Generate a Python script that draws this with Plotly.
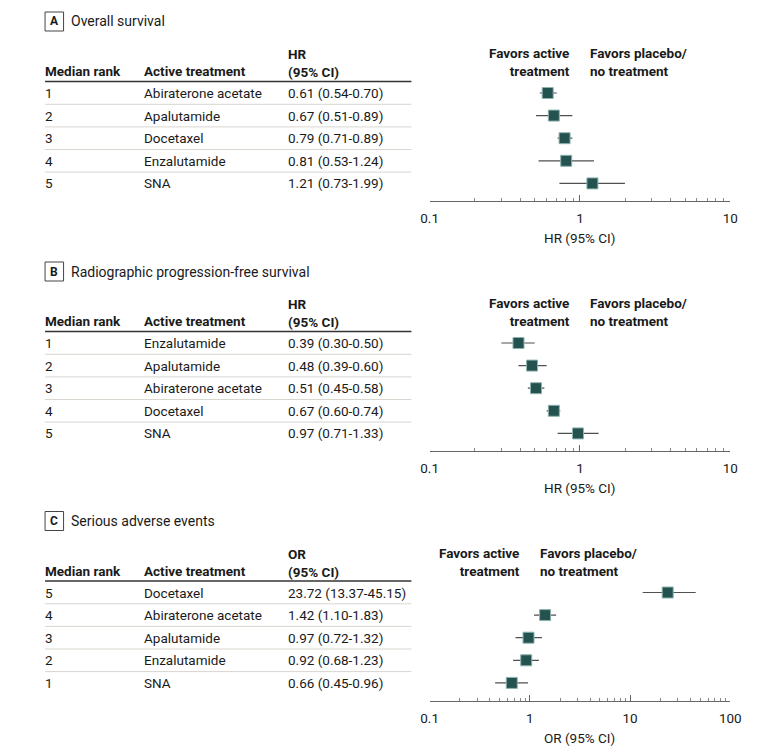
import plotly.graph_objects as go
import math

W, H = 780, 755

# ---------------- data ----------------
panel_letters = ["A", "B", "C"]
panel_titles = ["Overall survival", "Radiographic progression-free survival", "Serious adverse events"]
measure_labels = ["HR", "HR", "OR"]

a_rank = ["1", "2", "3", "4", "5"]
a_treat = ["Abiraterone acetate", "Apalutamide", "Docetaxel", "Enzalutamide", "SNA"]
a_est = [0.61, 0.67, 0.79, 0.81, 1.21]
a_lo = [0.54, 0.51, 0.71, 0.53, 0.73]
a_hi = [0.70, 0.89, 0.89, 1.24, 1.99]

b_rank = ["1", "2", "3", "4", "5"]
b_treat = ["Enzalutamide", "Apalutamide", "Abiraterone acetate", "Docetaxel", "SNA"]
b_est = [0.39, 0.48, 0.51, 0.67, 0.97]
b_lo = [0.30, 0.39, 0.45, 0.60, 0.71]
b_hi = [0.50, 0.60, 0.58, 0.74, 1.33]

c_rank = ["5", "4", "3", "2", "1"]
c_treat = ["Docetaxel", "Abiraterone acetate", "Apalutamide", "Enzalutamide", "SNA"]
c_est = [23.72, 1.42, 0.97, 0.92, 0.66]
c_lo = [13.37, 1.10, 0.72, 0.68, 0.45]
c_hi = [45.15, 1.83, 1.32, 1.23, 0.96]

a_ticks = [0.1, 1, 10]
b_ticks = [0.1, 1, 10]
c_ticks = [0.1, 1, 10, 100]
a_ticktext = ["0.1", "1", "10"]
b_ticktext = ["0.1", "1", "10"]
c_ticktext = ["0.1", "1", "10", "100"]

# ---------------- styling ----------------
FONT = "Roboto"
TXT = "#1a1a1a"
MARK = "#24524f"
MARK_EDGE = "#8fb3b0"
CI_COL = "#505050"


def px(x):
    return x / W


def py(y):
    return 1 - y / H


fig = go.Figure()
annotations = []
shapes = []

panels = [
    (a_rank, a_treat, a_est, a_lo, a_hi, a_ticks, a_ticktext),
    (b_rank, b_treat, b_est, b_lo, b_hi, b_ticks, b_ticktext),
    (c_rank, c_treat, c_est, c_lo, c_hi, c_ticks, c_ticktext),
]
offsets = [0, 250, 499.5]

ROW0 = 93.0
STEP = 22.6
X_LEFT, X_RIGHT = 431.7, 740.3
TX0, TX1, TX2 = 35, 137, 284   # table column starts

for p, (rank, treat, est, lo, hi, ticks, ticktext) in enumerate(panels):
    o = offsets[p]
    sfx = "" if p == 0 else str(p + 1)
    n = len(est)
    yb = 201 + o
    yt = 48 + o
    rows_px = [ROW0 + STEP * i + o for i in range(n)]
    yvals = [n - i for i in range(n)]
    ybot = 1 - (yb - rows_px[-1]) / STEP
    ytop = n + (rows_px[0] - yt) / STEP

    # panel label box + title
    shapes.append(dict(type="rect", xref="paper", yref="paper",
                       x0=px(37), x1=px(56), y0=py(31 + o), y1=py(12 + o),
                       line=dict(color="#444", width=1)))
    annotations.append(dict(xref="paper", yref="paper", x=px(46.5), y=py(21.5 + o),
                            text="<b>" + panel_letters[p] + "</b>", showarrow=False,
                            xanchor="center", yanchor="middle",
                            font=dict(family=FONT, size=12, color=TXT)))
    annotations.append(dict(xref="paper", yref="paper", x=px(62), y=py(21.5 + o),
                            text=panel_titles[p], showarrow=False,
                            xanchor="left", yanchor="middle",
                            font=dict(family=FONT, size=14, color=TXT)))

    # table header
    hdr_font = dict(family=FONT, size=13.5, color=TXT)
    annotations.append(dict(xref="paper", yref="paper", x=px(TX0), y=py(71 + o),
                            text="<b>Median rank</b>", showarrow=False,
                            xanchor="left", yanchor="middle", font=hdr_font))
    annotations.append(dict(xref="paper", yref="paper", x=px(TX1), y=py(71 + o),
                            text="<b>Active treatment</b>", showarrow=False,
                            xanchor="left", yanchor="middle", font=hdr_font))
    annotations.append(dict(xref="paper", yref="paper", x=px(TX2), y=py(63 + o),
                            text="<b>" + measure_labels[p] + "</b><br><b>(95% CI)</b>",
                            showarrow=False, align="left",
                            xanchor="left", yanchor="middle", font=hdr_font))
    shapes.append(dict(type="line", xref="paper", yref="paper",
                       x0=px(37), x1=px(413), y0=py(81.5 + o), y1=py(81.5 + o),
                       line=dict(color="#333", width=1.5)))

    # table rows
    row_font = dict(family=FONT, size=13.5, color=TXT)
    for i in range(n):
        yy = py(rows_px[i])
        annotations.append(dict(xref="paper", yref="paper", x=px(TX0), y=yy,
                                text=rank[i], showarrow=False,
                                xanchor="left", yanchor="middle", font=row_font))
        annotations.append(dict(xref="paper", yref="paper", x=px(TX1), y=yy,
                                text=treat[i], showarrow=False,
                                xanchor="left", yanchor="middle", font=row_font))
        annotations.append(dict(xref="paper", yref="paper", x=px(TX2), y=yy,
                                text="{:.2f} ({:.2f}-{:.2f})".format(est[i], lo[i], hi[i]),
                                showarrow=False,
                                xanchor="left", yanchor="middle", font=row_font))
        if i < n - 1:
            ysep = (rows_px[i] + rows_px[i + 1]) / 2
            shapes.append(dict(type="line", xref="paper", yref="paper",
                               x0=px(37), x1=px(413), y0=py(ysep), y1=py(ysep),
                               line=dict(color="#d9d6d0", width=1)))

    # forest plot trace: point estimate + 95% CI
    fig.add_trace(go.Scatter(
        x=est, y=yvals, mode="markers",
        xaxis="x" + sfx, yaxis="y" + sfx,
        marker=dict(symbol="square", size=11, color=MARK,
                    line=dict(color=MARK_EDGE, width=1)),
        error_x=dict(type="data", symmetric=False,
                     array=[h - e for h, e in zip(hi, est)],
                     arrayminus=[e - l for e, l in zip(est, lo)],
                     color=CI_COL, thickness=1.2, width=0),
        showlegend=False, hoverinfo="skip",
    ))

    lo_dec = math.log10(ticks[0])
    hi_dec = math.log10(ticks[-1])
    minor_vals = []
    for d in range(int(round(lo_dec)), int(round(hi_dec))):
        for k in range(2, 10):
            minor_vals.append(k * 10 ** d)

    fig.update_layout(**{
        "xaxis" + sfx: dict(
            type="log", range=[lo_dec, hi_dec],
            domain=[px(X_LEFT), px(X_RIGHT)],
            anchor="y" + sfx,
            showline=True, linecolor="#666", linewidth=1,
            ticks="inside", ticklen=6, tickcolor="#666", tickwidth=1,
            tickvals=ticks, ticktext=ticktext,
            tickfont=dict(family=FONT, size=13.5, color=TXT),
            ticklabelstandoff=5,
            minor=dict(tickvals=minor_vals, ticks="inside", ticklen=3,
                       tickcolor="#888", tickwidth=1, showgrid=False),
            showgrid=False, zeroline=False, fixedrange=True,
        ),
        "yaxis" + sfx: dict(
            range=[ybot, ytop], domain=[py(yb), py(yt)],
            anchor="x" + sfx, visible=False, fixedrange=True,
        ),
    })

    # axis title
    annotations.append(dict(xref="paper", yref="paper", x=px((X_LEFT + X_RIGHT) / 2),
                            y=py(238 + o), text=measure_labels[p] + " (95% CI)",
                            showarrow=False, xanchor="center", yanchor="middle",
                            font=dict(family=FONT, size=13.5, color=TXT)))

    # null line at 1 (log10(1) = 0)
    shapes.append(dict(type="line", xref="x" + sfx, yref="y" + sfx + " domain",
                       x0=0, x1=0, y0=0, y1=1,
                       line=dict(color="#888", width=1, dash="dot")))

    fav_font = dict(family=FONT, size=13.5, color=TXT)
    annotations.append(dict(xref="x" + sfx, yref="paper", x=0, xshift=-8,
                            y=py(62 + o), text="<b>Favors active</b><br><b>treatment</b>",
                            showarrow=False, align="right",
                            xanchor="right", yanchor="middle", font=fav_font))
    annotations.append(dict(xref="x" + sfx, yref="paper", x=0, xshift=8,
                            y=py(62 + o), text="<b>Favors placebo/</b><br><b>no treatment</b>",
                            showarrow=False, align="left",
                            xanchor="left", yanchor="middle", font=fav_font))

fig.update_layout(
    width=W, height=H,
    margin=dict(l=0, r=0, t=0, b=0),
    paper_bgcolor="white", plot_bgcolor="white",
    annotations=annotations, shapes=shapes,
    font=dict(family=FONT, color=TXT),
)

fig.write_html(
    "out.html",
    config={"displayModeBar": False},
    post_script="document.body.style.margin='0';document.body.style.overflow='hidden';",
)
